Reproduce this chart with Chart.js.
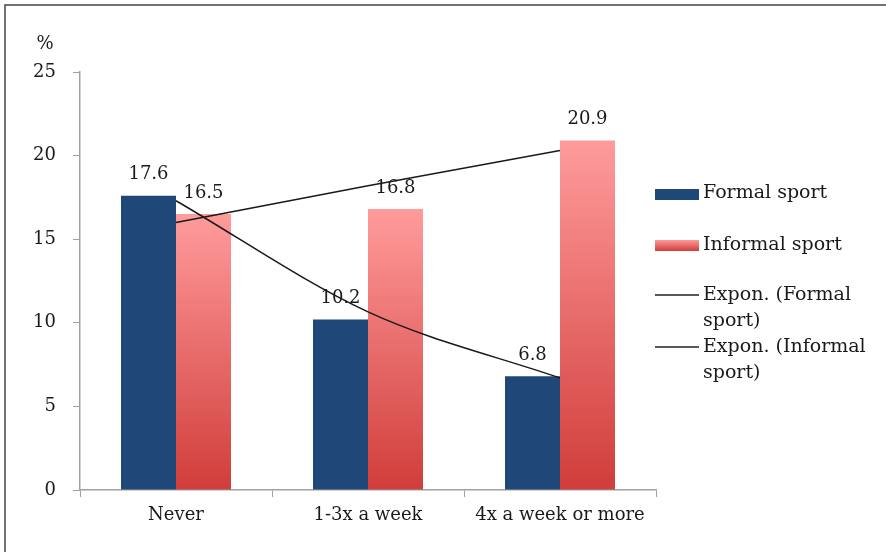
<!DOCTYPE html>
<html>
<head>
<meta charset="utf-8">
<script src="https://cdn.jsdelivr.net/npm/chart.js@4.4.0/dist/chart.umd.min.js"></script>
<style>
  html, body { margin: 0; padding: 0; background: #fff; }
  #chart { display: block; }
</style>
</head>
<body>
<canvas id="chart" width="886" height="552"></canvas>
<script>
const categories = ["Never", "1-3x a week", "4x a week or more"];
const formalSport = [17.6, 10.2, 6.8];
const informalSport = [16.5, 16.8, 20.9];
// exponential trend lines at each category centre
const formalTrend = [17.3, 10.65, 6.7];
const informalTrend = [16.0, 18.2, 20.3];
const yTicks = [0, 5, 10, 15, 20, 25];

const FONT = "'DejaVu Serif', serif";
const TEXT = "#1a1a1a";
const BLUE = "#1f4778";
const PINK_TOP = "#ff9b9b";
const PINK_BOTTOM = "#d03d3a";

function pinkFill(ctx) {
    const chart = ctx.chart;
    if (!chart.chartArea || ctx.type !== "data") return PINK_TOP;
    const y = chart.scales.y;
    const top = y.getPixelForValue(ctx.raw);
    const bottom = y.getPixelForValue(0);
    const g = chart.ctx.createLinearGradient(0, top, 0, bottom);
    g.addColorStop(0, PINK_TOP);
    g.addColorStop(1, PINK_BOTTOM);
    return g;
}

const framePlugin = {
    id: "frame",
    beforeDraw(chart) {
        const c = chart.ctx;
        c.save();
        c.fillStyle = "#fff";
        c.fillRect(0, 0, chart.width, chart.height);
        c.strokeStyle = "#444";
        c.lineWidth = 1.5;
        c.beginPath();
        c.moveTo(5, chart.height);
        c.lineTo(5, 5);
        c.lineTo(chart.width, 5);
        c.stroke();
        c.restore();
    },
    afterDraw(chart) {
        const c = chart.ctx;
        c.save();
        c.font = "18px " + FONT;
        c.fillStyle = TEXT;
        c.textAlign = "center";
        c.textBaseline = "middle";
        c.fillText("%", 45, 44);

        // legend
        const x0 = 655, sw = 44, tx = 703;
        c.textAlign = "left";
        c.fillStyle = BLUE;
        c.fillRect(x0, 189, sw, 11);
        const g = c.createLinearGradient(0, 240, 0, 251);
        g.addColorStop(0, PINK_TOP);
        g.addColorStop(1, PINK_BOTTOM);
        c.fillStyle = g;
        c.fillRect(x0, 240, sw, 11);
        c.strokeStyle = "#222";
        c.lineWidth = 1.5;
        c.beginPath();
        c.moveTo(x0, 295); c.lineTo(x0 + sw, 295);
        c.moveTo(x0, 347); c.lineTo(x0 + sw, 347);
        c.stroke();
        c.font = "19px " + FONT;
        c.fillStyle = TEXT;
        const rows = [
            ["Formal sport", 193],
            ["Informal sport", 245],
            ["Expon. (Formal", 295],
            ["sport)", 321],
            ["Expon. (Informal", 347],
            ["sport)", 373],
        ];
        rows.forEach(([t, y]) => c.fillText(t, tx, y));
        c.restore();
    },
    afterDatasetDraw(chart, args) {
        if (args.meta.type !== "bar") return;
        const c = chart.ctx;
        const ds = chart.data.datasets[args.index];
        c.save();
        c.font = "18px " + FONT;
        c.fillStyle = TEXT;
        c.textAlign = "center";
        c.textBaseline = "middle";
        args.meta.data.forEach((bar, i) => {
            c.fillText(ds.data[i].toFixed(1), bar.x, bar.y - 21);
        });
        c.restore();
    },
};

new Chart(document.getElementById("chart"), {
    type: "bar",
    data: {
        labels: categories,
        datasets: [
            {
                label: "Formal sport",
                data: formalSport,
                backgroundColor: BLUE,
                categoryPercentage: 0.573,
                barPercentage: 1.0,
                order: 2,
            },
            {
                label: "Informal sport",
                data: informalSport,
                backgroundColor: pinkFill,
                categoryPercentage: 0.573,
                barPercentage: 1.0,
                order: 2,
            },
            {
                type: "line",
                label: "Expon. (Formal sport)",
                data: formalTrend,
                borderColor: "#1a1a1a",
                borderWidth: 1.5,
                pointRadius: 0,
                cubicInterpolationMode: "monotone",
                fill: false,
                order: 1,
            },
            {
                type: "line",
                label: "Expon. (Informal sport)",
                data: informalTrend,
                borderColor: "#1a1a1a",
                borderWidth: 1.5,
                pointRadius: 0,
                cubicInterpolationMode: "monotone",
                fill: false,
                order: 1,
            },
        ],
    },
    options: {
        responsive: false,
        animation: false,
        devicePixelRatio: 1,
        layout: { padding: { left: 0, right: 230, top: 72, bottom: 0 } },
        plugins: {
            legend: { display: false },
            tooltip: { enabled: false },
        },
        scales: {
            x: {
                grid: { drawOnChartArea: false, drawTicks: true, tickLength: 7, color: "#a0a0a0", offset: true },
                border: { color: "#a0a0a0", width: 1.5 },
                ticks: { font: { family: FONT, size: 18 }, color: TEXT, padding: 8, maxRotation: 0 },
                afterFit(scale) { scale.height = 62; },
            },
            y: {
                min: 0,
                max: 25,
                afterBuildTicks(scale) { scale.ticks = yTicks.map(v => ({ value: v })); },
                grid: { drawOnChartArea: false, drawTicks: true, tickLength: 7, color: "#a0a0a0" },
                border: { color: "#a0a0a0", width: 1.5 },
                ticks: { font: { family: FONT, size: 18 }, color: TEXT, padding: 17 },
                afterFit(scale) { scale.width = 80; },
            },
        },
    },
    plugins: [framePlugin],
});
</script>
</body>
</html>
